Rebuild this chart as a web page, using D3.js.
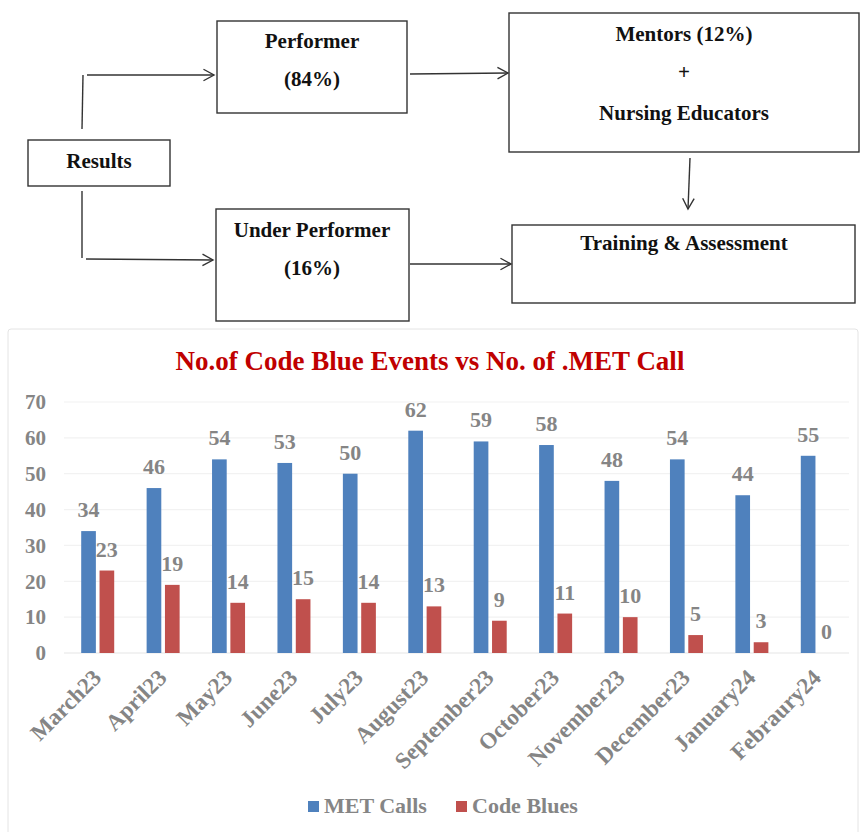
<!DOCTYPE html>
<html>
<head>
<meta charset="utf-8">
<script src="https://cdn.jsdelivr.net/npm/d3@7/dist/d3.min.js"></script>
<style>
  html, body { margin: 0; padding: 0; background: #fff; }
  svg { display: block; font-family: "Liberation Serif", "Times New Roman", serif; }
</style>
</head>
<body>
<svg id="fig" width="862" height="832"></svg>
<script>
// Monthly counts
const months = ["March23","April23","May23","June23","July23","August23","September23","October23","November23","December23","January24","Febraury24"];
const metCalls = [34,46,54,53,50,62,59,58,48,54,44,55];
const codeBlues = [23,19,14,15,14,13,9,11,10,5,3,0];
const seriesNames = ["MET Calls","Code Blues"];
const seriesColors = ["#4F81BD","#C0504D"];
const yTicks = [0,10,20,30,40,50,60,70];

const svg = d3.select("#fig");
const ink = "#333";
const serif = "Liberation Serif, Times New Roman, serif";

// ---------- Flow diagram ----------
const flow = svg.append("g");

function box(x, y, w, h) {
  flow.append("rect").attr("x", x).attr("y", y).attr("width", w).attr("height", h)
    .attr("fill", "#fff").attr("stroke", ink).attr("stroke-width", 1.4);
}
function label(x, y, t, size) {
  flow.append("text").attr("x", x).attr("y", y).attr("text-anchor", "middle")
    .attr("font-family", serif)
    .attr("font-size", size || 21).attr("font-weight", "bold").attr("fill", "#111").text(t);
}
function seg(x1, y1, x2, y2) {
  flow.append("line").attr("x1", x1).attr("y1", y1).attr("x2", x2).attr("y2", y2)
    .attr("stroke", ink).attr("stroke-width", 1.4);
}
// line ending in an open chevron head
function arrow(x1, y1, x2, y2) {
  seg(x1, y1, x2, y2);
  const a = Math.atan2(y2 - y1, x2 - x1), L = 12, s = 0.5;
  const p = d3.path();
  p.moveTo(x2 - L * Math.cos(a - s), y2 - L * Math.sin(a - s));
  p.lineTo(x2, y2);
  p.lineTo(x2 - L * Math.cos(a + s), y2 - L * Math.sin(a + s));
  flow.append("path").attr("d", p.toString()).attr("fill", "none")
    .attr("stroke", ink).attr("stroke-width", 1.4);
}

box(28, 140, 142, 46);
label(99, 168, "Results");

box(217, 21, 190, 92);
label(312, 48, "Performer");
label(312, 86, "(84%)");

box(216, 209, 193, 112);
label(312, 237, "Under Performer");
label(312, 275, "(16%)");

box(509, 13, 350, 139);
label(684, 41, "Mentors (12%)");
label(684, 79, "+", 21);
label(684, 120, "Nursing Educators");

box(512, 225, 343, 78);
label(684, 250, "Training & Assessment");

seg(82, 129, 83, 75);
arrow(87, 75, 214, 75);
seg(82, 191, 82, 258);
arrow(86, 259, 213, 260);
arrow(410, 74, 508, 73);
arrow(410, 264, 511, 264);
arrow(690, 158, 688, 209);

// ---------- Bar chart ----------
svg.append("rect").attr("x", 8).attr("y", 329).attr("width", 850).attr("height", 520)
  .attr("rx", 3).attr("fill", "#fff").attr("stroke", "#e4e4e4").attr("stroke-width", 1);

const gray = "#858585";
const plot = { left: 64, right: 849, top: 402, bottom: 653 };

const y = d3.scaleLinear().domain([0, 70]).range([plot.bottom, plot.top]);
const x0 = d3.scaleBand().domain(months).range([plot.left, plot.right]);
const x1 = d3.scaleBand().domain(seriesNames).range([0, 33]).paddingInner(0.2);
const color = d3.scaleOrdinal().domain(seriesNames).range(seriesColors);
const groupStart = m => x0(m) + x0.bandwidth() / 2 - 15.5;

svg.append("text").attr("x", 430).attr("y", 370).attr("text-anchor", "middle")
  .attr("font-family", serif)
  .attr("font-size", 27).attr("font-weight", "bold").attr("fill", "#C00000")
  .text("No.of Code Blue Events vs No. of .MET Call");

// gridlines
svg.append("g").selectAll("line").data(yTicks).join("line")
  .attr("x1", plot.left).attr("x2", plot.right)
  .attr("y1", d => y(d)).attr("y2", d => y(d))
  .attr("stroke", d => d === 0 ? "#e6e6e6" : "#f2f2f2").attr("stroke-width", 1.2);

// y axis labels
const yAxis = d3.axisLeft(y).tickValues(yTicks).tickSize(0).tickPadding(0);
svg.append("g").attr("transform", "translate(46,0)").call(yAxis)
  .call(g => g.select(".domain").remove())
  .selectAll("text").attr("font-family", serif)
  .attr("font-size", 21).attr("font-weight", "bold").attr("fill", gray);

// x axis labels
const xAxis = d3.axisBottom(x0).tickSize(0).tickPadding(0);
svg.append("g").attr("transform", `translate(0,${plot.bottom})`).call(xAxis)
  .call(g => g.select(".domain").remove())
  .selectAll("text").attr("font-family", serif)
  .attr("font-size", 23).attr("font-weight", "bold").attr("fill", gray)
  .attr("text-anchor", "end").attr("dy", null)
  .attr("transform", "translate(6,26) rotate(-45)");

const rows = months.map((m, i) => ({ month: m, values: [
  { key: seriesNames[0], value: metCalls[i] },
  { key: seriesNames[1], value: codeBlues[i] }
]}));

const groups = svg.append("g").selectAll("g").data(rows).join("g")
  .attr("transform", d => `translate(${groupStart(d.month)},0)`);

groups.selectAll("rect").data(d => d.values).join("rect")
  .attr("x", d => x1(d.key)).attr("width", x1.bandwidth())
  .attr("y", d => y(d.value)).attr("height", d => y(0) - y(d.value))
  .attr("fill", d => color(d.key));

groups.selectAll("text").data(d => d.values).join("text")
  .attr("x", d => x1(d.key) + x1.bandwidth() / 2)
  .attr("y", d => y(d.value) - 14)
  .attr("font-family", serif)
  .attr("text-anchor", "middle").attr("font-size", 22).attr("font-weight", "bold")
  .attr("fill", gray).text(d => d.value);

// legend
const legend = svg.append("g");
const legendX = [308, 456];
seriesNames.forEach((s, i) => {
  legend.append("rect").attr("x", legendX[i]).attr("y", 801).attr("width", 11).attr("height", 11)
    .attr("fill", seriesColors[i]);
  legend.append("text").attr("x", legendX[i] + 16).attr("y", 813)
    .attr("font-family", serif)
    .attr("font-size", 22).attr("font-weight", "bold").attr("fill", gray).text(s);
});
</script>
</body>
</html>
